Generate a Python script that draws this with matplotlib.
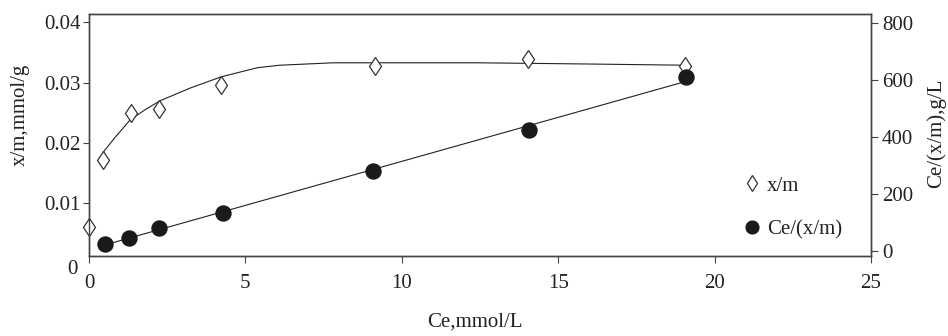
import numpy as np
import matplotlib
matplotlib.use('Agg')
import matplotlib.pyplot as plt

plt.rcParams['font.family'] = ['Liberation Serif', 'DejaVu Serif']
plt.rcParams['font.size'] = 15

# x/m points (left axis)
ce_xm = [0.0, 0.44, 1.34, 2.25, 4.23, 9.14, 14.04, 19.05]
xm = [0.0061, 0.0171, 0.0250, 0.0257, 0.0297, 0.0328, 0.0340, 0.0328]

# Ce/(x/m) points (right axis)
ce_ratio = [0.51, 1.29, 2.25, 4.27, 9.09, 14.08, 19.1]
ratio = [24.6, 46.7, 80.7, 134.4, 281.8, 424.6, 609.5]

# trend curve drawn through the x/m points
curve_ce = [0.46, 0.83, 1.31, 1.79, 2.27, 3.23, 4.24, 5.4, 6.1, 7.8, 9.94, 12.5, 16.0, 19.05]
curve_xm = [0.0185, 0.0209, 0.0238, 0.0255, 0.0270, 0.0291, 0.0310, 0.0325, 0.0329, 0.0333,
            0.0333, 0.0333, 0.0331, 0.0329]

x_ticks = [0, 5, 10, 15, 20, 25]
left_ticks = [0.01, 0.02, 0.03, 0.04]
left_labels = ['0.01', '0.02', '0.03', '0.04']
right_ticks = [0, 200, 400, 600, 800]

text_col = '#222222'
frame_col = '#444444'

fig = plt.figure(figsize=(9.48, 3.36), dpi=100)
ax = fig.add_axes([89 / 948, 80 / 336, 782 / 948, 242 / 336])
ax2 = ax.twinx()

# x/m curve and markers
ax.plot(curve_ce, curve_xm, color=text_col, lw=0.8, zorder=2)
ax.plot(ce_xm, xm, ls='none', marker='d', ms=9.4, mfc='white', mec='#333333',
        mew=0.9, label='x/m', zorder=3, clip_on=False)

# linear fit of Ce/(x/m) against Ce
coef = np.polyfit(ce_ratio, ratio, 1)
xs = np.array([min(ce_ratio), max(ce_ratio)])
ax2.plot(xs, np.polyval(coef, xs), color=text_col, lw=0.8, zorder=2)
ax2.plot(ce_ratio, ratio, ls='none', marker='o', ms=10.8, color='#1a1a1a',
         label='Ce/(x/m)', zorder=3)

ax.set_xlim(0, 25)
ax.set_ylim(0.00124, 0.0414)
ax2.set_ylim(-17.5, 831.6)

ax.set_xticks(x_ticks)
ax.set_xticklabels([str(t) for t in x_ticks])
ax.set_yticks(left_ticks)
ax.set_yticklabels(left_labels)
ax2.set_yticks(right_ticks)
ax2.set_yticklabels([str(t) for t in right_ticks])

ax.tick_params(axis='x', direction='out', length=5, width=0.8, color=frame_col,
               labelcolor=text_col, pad=8)
ax.tick_params(axis='y', direction='out', length=4, width=0.8, color=frame_col,
               labelcolor=text_col, pad=2)
ax2.tick_params(axis='y', direction='out', length=5, width=0.8, color=frame_col,
                labelcolor=text_col, pad=3)

for a in (ax, ax2):
    for s in a.spines.values():
        s.set_color(frame_col)
        s.set_linewidth(1.0)

# the left axis "0" sits below the frame
fig.text(72 / 948, 1 - 269 / 336, '0', ha='center', va='center', color=text_col)

fig.text(475 / 948, 1 - 322 / 336, 'Ce,mmol/L', ha='center', va='center', color=text_col)
fig.text(20 / 948, 1 - 115 / 336, 'x/m,mmol/g', ha='center', va='center',
         rotation=90, color=text_col)
fig.text(936 / 948, 1 - 133 / 336, 'Ce/(x/m),g/L', ha='center', va='center',
         rotation=90, color=text_col)

h1, l1 = ax.get_legend_handles_labels()
h2, l2 = ax2.get_legend_handles_labels()
leg = ax2.legend(h1 + h2, l1 + l2, loc='upper left', frameon=False, numpoints=1,
                 bbox_to_anchor=(744 / 948, 1 - 176 / 336), bbox_transform=fig.transFigure,
                 borderpad=0, borderaxespad=0, handlelength=0.8, handletextpad=0.3,
                 labelspacing=1.15, markerscale=0.85)
for t in leg.get_texts():
    t.set_color(text_col)

fig.savefig('out.png', dpi=100)
